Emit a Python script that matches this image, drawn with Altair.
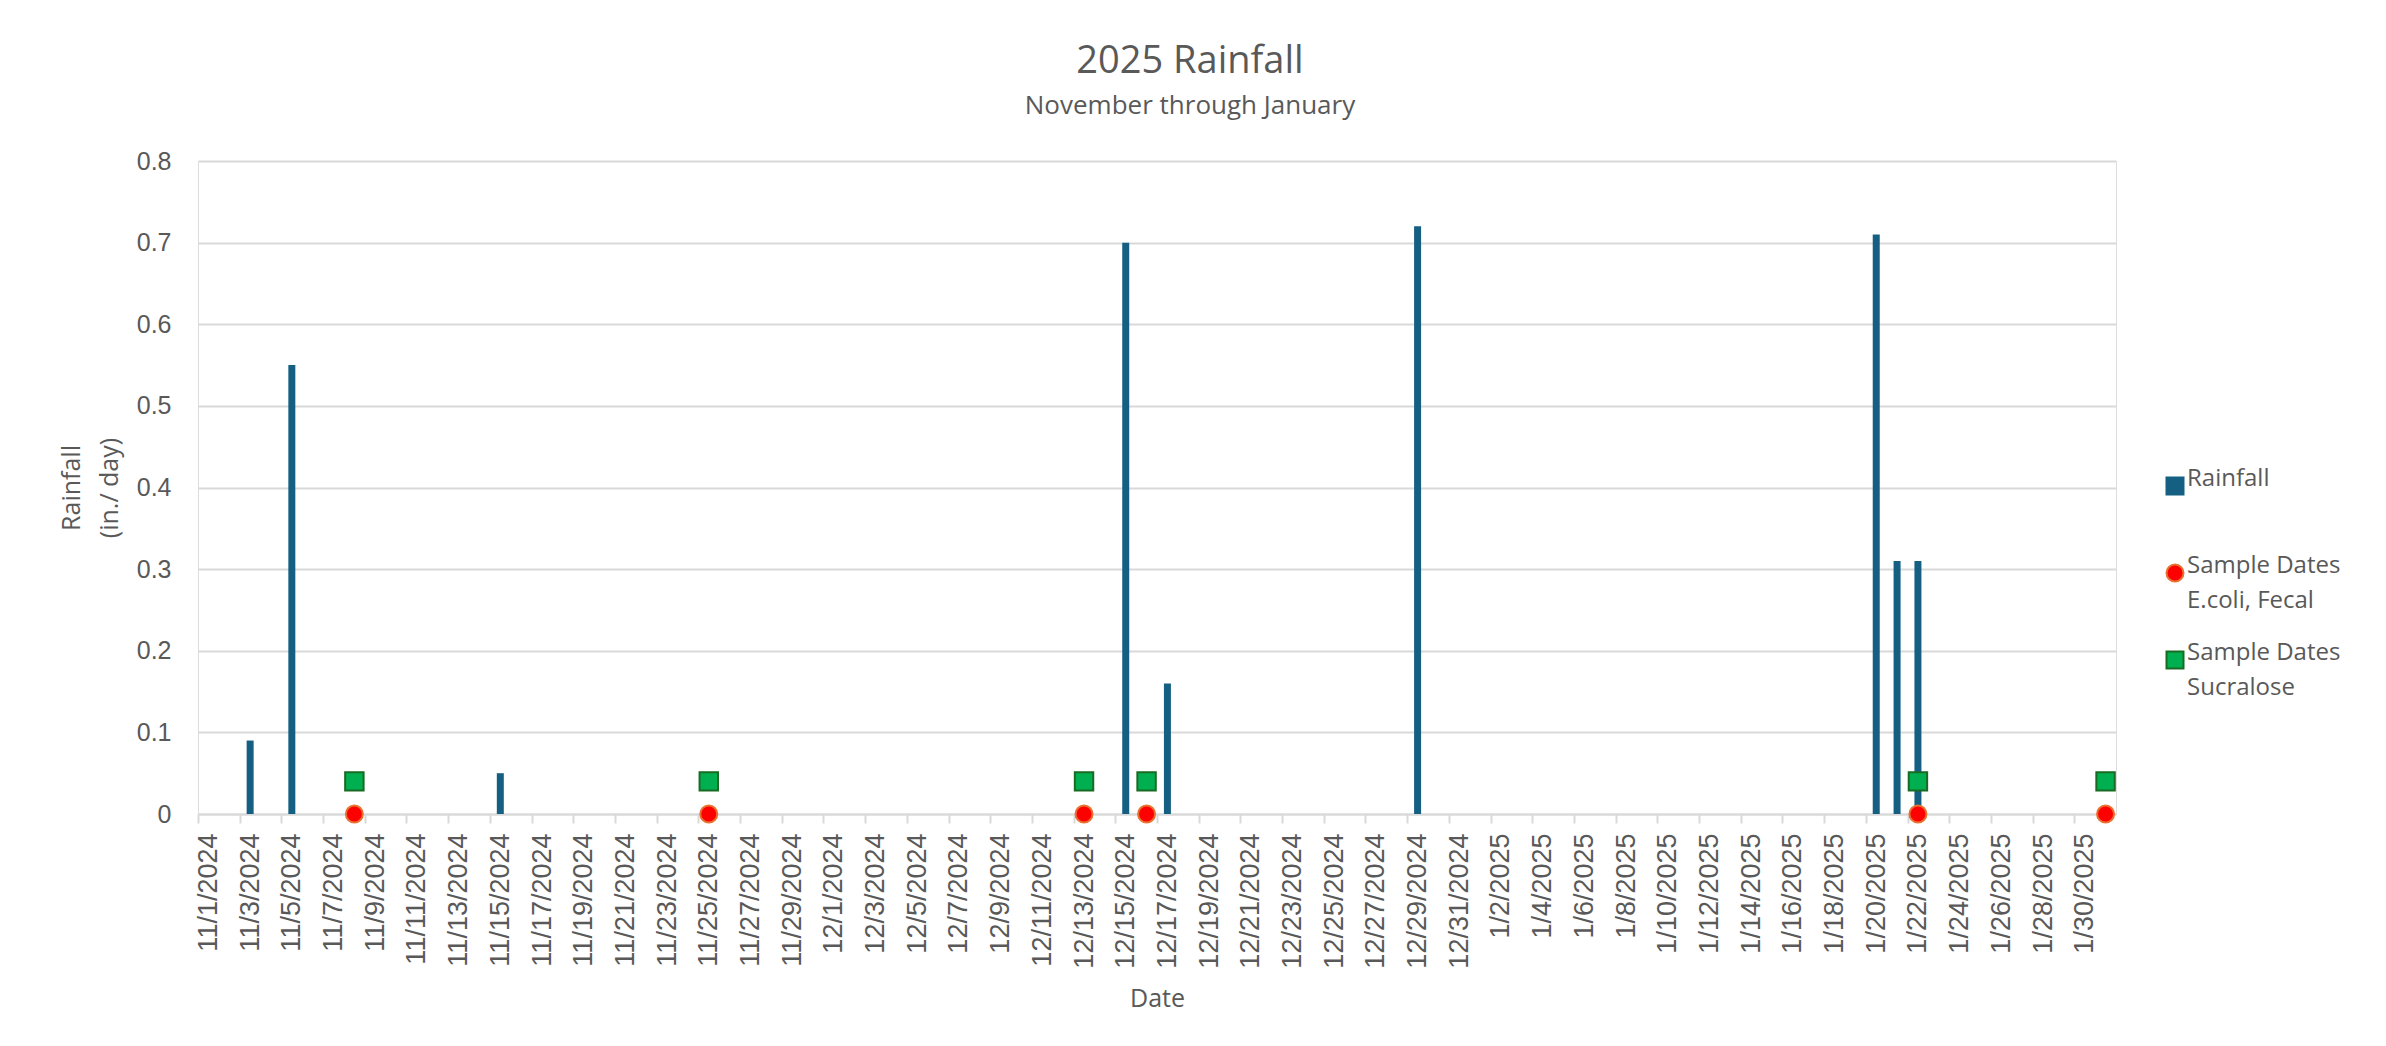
import altair as alt
import pandas as pd

# ---- categories (one per day, Nov 1 2024 .. Jan 31 2025) ----
dates = [f"{d.month}/{d.day}/{d.year}" for d in pd.date_range("2024-11-01", "2025-01-31", freq="D")]
tick_labels = dates[::2]

# ---- rainfall (in./day), only the non-zero days ----
rain_dates = ["11/3/2024", "11/5/2024", "11/15/2024", "12/15/2024", "12/17/2024",
              "12/29/2024", "1/20/2025", "1/21/2025", "1/22/2025"]
rain_values = [0.09, 0.55, 0.05, 0.70, 0.16, 0.72, 0.71, 0.31, 0.31]

# ---- sample dates ----
ecoli_dates = ["11/8/2024", "11/25/2024", "12/13/2024", "12/16/2024", "1/22/2025", "1/31/2025"]
ecoli_values = [0, 0, 0, 0, 0, 0]
sucralose_dates = ["11/8/2024", "11/25/2024", "12/13/2024", "12/16/2024", "1/22/2025", "1/31/2025"]
sucralose_values = [0.04, 0.04, 0.04, 0.04, 0.04, 0.04]

series_names = ["Rainfall", "Sample Dates|E.coli, Fecal", "Sample Dates|Sucralose"]
series_fill = ["#156082", "#FF0000", "#00B050"]
series_stroke = ["#156082", "#E97132", "#196B24"]
series_shape = ["square", "circle", "square"]
y_ticks = [0, 0.1, 0.2, 0.3, 0.4, 0.5, 0.6, 0.7, 0.8]

rain_df = pd.DataFrame({"date": rain_dates, "value": rain_values, "series": series_names[0]})
ecoli_df = pd.DataFrame({"date": ecoli_dates, "value": ecoli_values, "series": series_names[1]})
suc_df = pd.DataFrame({"date": sucralose_dates, "value": sucralose_values, "series": series_names[2]})

TEXT = "#595959"
GRID = "#d9d9d9"
PLOT_W = 1918
HALF_BAND = PLOT_W / len(dates) / 2

legend = alt.Legend(
    title=None, orient="none", legendX=1965, legendY=313,
    labelExpr="split(datum.label, '|')",
    labelFont="Open Sans", labelFontSize=24, labelColor=TEXT,
    labelBaseline="alphabetic", labelOffset=0, labelLimit=400,
    symbolSize=289, symbolStrokeWidth=2, rowPadding=28, gridAlign="all", padding=0,
)

x_enc = alt.X(
    "date:N", sort=dates,
    scale=alt.Scale(domain=dates, paddingInner=0, paddingOuter=0.001),
    axis=alt.Axis(
        values=tick_labels, labelAngle=-90, labelFont="Liberation Sans", labelFontSize=27,
        labelColor=TEXT, labelPadding=10, labelOverlap=False,
        tickSize=9, tickColor=GRID, tickWidth=2, domainColor=GRID, domainWidth=2,
        tickOffset=-HALF_BAND, labelOffset=HALF_BAND,
        grid=False, title="Date", titleFont="Open Sans", titleFontSize=25,
        titleColor=TEXT, titleFontWeight="normal", titlePadding=18, zindex=0,
    ),
)
y_enc = alt.Y(
    "value:Q",
    scale=alt.Scale(domain=[0, 0.8], nice=False),
    axis=alt.Axis(
        values=y_ticks, format=".1~f", labelFont="Liberation Sans", labelFontSize=25,
        labelColor=TEXT, labelPadding=27, ticks=False, domain=False,
        gridColor=GRID, gridWidth=2, title=["Rainfall", "(in./ day)"],
        titleFont="Open Sans", titleFontSize=25, titleColor=TEXT, titleFontWeight="normal",
        titlePadding=14, titleLineHeight=38, zindex=0,
    ),
)
color_enc = alt.Color("series:N", scale=alt.Scale(domain=series_names, range=series_fill), legend=legend)
stroke_enc = alt.Stroke("series:N", scale=alt.Scale(domain=series_names, range=series_stroke), legend=legend)
shape_enc = alt.Shape("series:N", scale=alt.Scale(domain=series_names, range=series_shape), legend=legend)

bars = alt.Chart(rain_df).mark_bar(size=7).encode(x=x_enc, y=y_enc, color=color_enc)
ecoli = alt.Chart(ecoli_df).mark_point(filled=True, size=290, strokeWidth=2, opacity=1).encode(
    x=x_enc, y=y_enc, color=color_enc, stroke=stroke_enc, shape=shape_enc)
suc = alt.Chart(suc_df).mark_point(filled=True, size=340, strokeWidth=2, opacity=1).encode(
    x=x_enc, y=y_enc, color=color_enc, stroke=stroke_enc, shape=shape_enc)

chart = alt.layer(bars, ecoli, suc).properties(
    width=PLOT_W, height=653,
    autosize=alt.AutoSizeParams(type="none"),
    padding={"left": 190, "top": 153, "right": 255, "bottom": 215},
    title=alt.Title(
        "2025 Rainfall", subtitle="November through January",
        font="Open Sans", fontSize=38, fontWeight="normal", color=TEXT,
        subtitleFont="Open Sans", subtitleFontSize=26, subtitleColor=TEXT,
        anchor="middle", frame="group", offset=30, subtitlePadding=12, dx=33,
    ),
).configure_view(stroke="transparent").configure(
    background="white", style={"guide-label": {"lineHeight": 35}}
)

chart.save("out.html", embed_options={"renderer": "svg", "actions": False})
